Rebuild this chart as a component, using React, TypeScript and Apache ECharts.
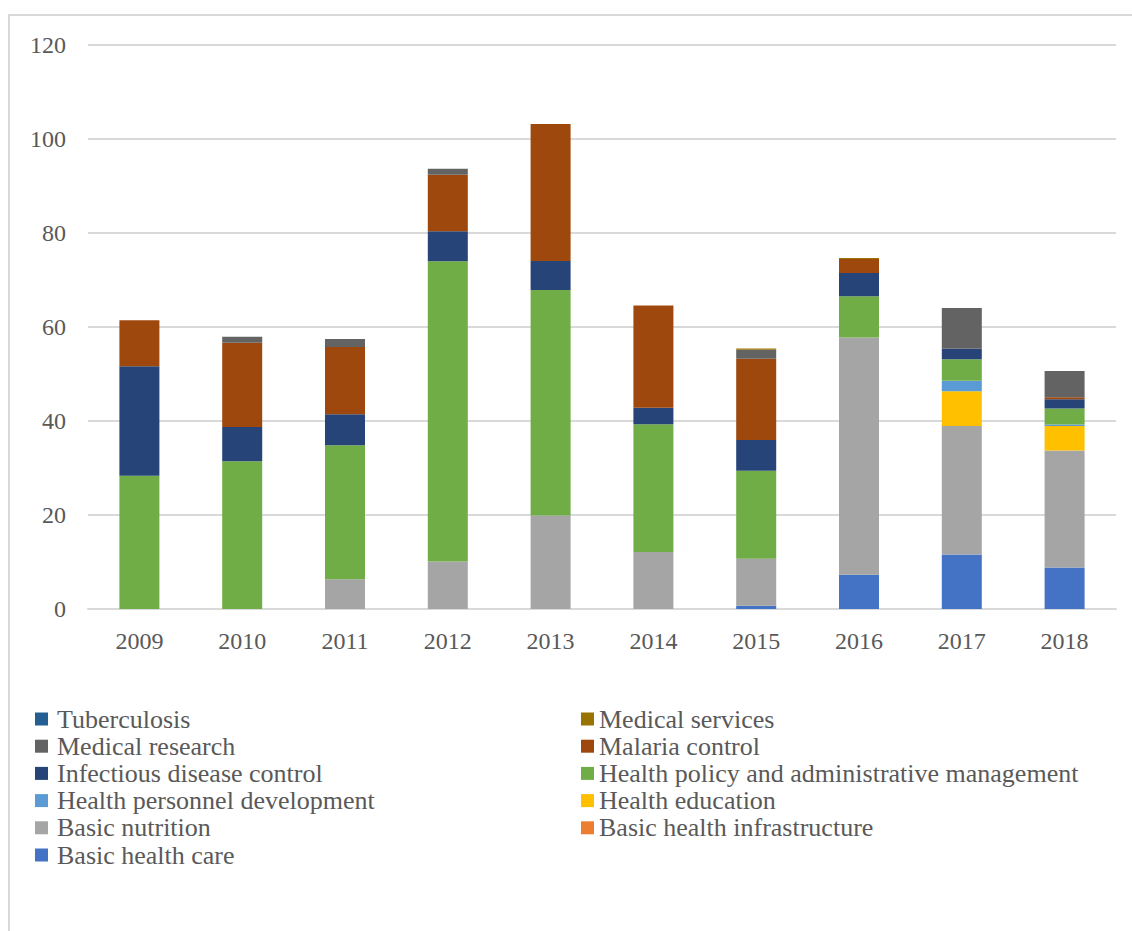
import React, { useEffect, useRef } from "react";
import * as echarts from "echarts";

const years = ["2009", "2010", "2011", "2012", "2013", "2014", "2015", "2016", "2017", "2018"];

const basicHealthCare = [0, 0, 0, 0, 0, 0, 0.7, 7.3, 11.6, 8.8];
const basicHealthInfrastructure = [0, 0, 0, 0, 0, 0, 0, 0, 0, 0];
const basicNutrition = [0, 0, 6.3, 10.1, 19.9, 12.1, 10.0, 50.4, 27.3, 24.9];
const healthEducation = [0, 0, 0, 0, 0, 0, 0, 0, 7.4, 5.2];
const healthPersonnel = [0, 0, 0, 0, 0, 0, 0, 0, 2.2, 0.3];
const healthPolicy = [28.3, 31.4, 28.5, 63.8, 47.9, 27.2, 18.7, 8.8, 4.6, 3.4];
const infectiousDisease = [23.3, 7.3, 6.6, 6.4, 6.2, 3.5, 6.5, 4.9, 2.2, 2.0];
const malariaControl = [9.8, 17.9, 14.3, 12.0, 29.1, 21.7, 17.3, 3.0, 0, 0.4];
const medicalResearch = [0, 1.3, 1.7, 1.3, 0, 0, 1.9, 0, 8.7, 5.6];
const medicalServices = [0, 0, 0, 0, 0, 0, 0.3, 0.2, 0, 0];
const tuberculosis = [0, 0, 0, 0, 0, 0, 0, 0, 0, 0];

const yTicks = [0, 20, 40, 60, 80, 100, 120];

const seriesDefs = [
  { name: "Basic health care", data: basicHealthCare, color: "#4472C4" },
  { name: "Basic health infrastructure", data: basicHealthInfrastructure, color: "#ED7D31" },
  { name: "Basic nutrition", data: basicNutrition, color: "#A5A5A5" },
  { name: "Health education", data: healthEducation, color: "#FFC000" },
  { name: "Health personnel development", data: healthPersonnel, color: "#5B9BD5" },
  { name: "Health policy and administrative management", data: healthPolicy, color: "#70AD47" },
  { name: "Infectious disease control", data: infectiousDisease, color: "#264478" },
  { name: "Malaria control", data: malariaControl, color: "#9E480E" },
  { name: "Medical research", data: medicalResearch, color: "#636363" },
  { name: "Medical services", data: medicalServices, color: "#997300" },
  { name: "Tuberculosis", data: tuberculosis, color: "#255E91" },
];

const legendCol1 = [
  "Tuberculosis",
  "Medical research",
  "Infectious disease control",
  "Health personnel development",
  "Basic nutrition",
  "Basic health care",
];
const legendCol2 = [
  "Medical services",
  "Malaria control",
  "Health policy and administrative management",
  "Health education",
  "Basic health infrastructure",
];

const FONT = "Liberation Serif";
const TEXT = "#595959";

export default function App() {
  const ref = useRef<HTMLDivElement>(null);
  useEffect(() => {
    if (!ref.current) return;
    const chart = echarts.init(ref.current, undefined, { renderer: "svg" });
    const legendCommon = {
      orient: "vertical" as const,
      top: 701,
      itemWidth: 13,
      itemHeight: 13,
      itemGap: 1.2,
      icon: "rect",
      selectedMode: false,
    };
    const textStyle = {
      fontFamily: FONT,
      fontSize: 26,
      color: TEXT,
      lineHeight: 26,
    };
    chart.setOption({
      animation: false,
      backgroundColor: "#ffffff",
      grid: { left: 88, right: 16, top: 44.5, bottom: 322, containLabel: false },
      graphic: [
        {
          type: "rect",
          shape: { x: 9, y: 15, width: 1300, height: 1100 },
          style: { fill: "none", stroke: "#d9d9d9", lineWidth: 2 },
          silent: true,
        },
      ],
      legend: [
        {
          ...legendCommon,
          left: 30,
          data: legendCol1,
          textStyle: { ...textStyle, padding: [0, 0, 0, 4] },
        },
        {
          ...legendCommon,
          left: 576,
          data: legendCol2,
          textStyle: { ...textStyle, padding: [0, 0, 0, 0] },
        },
      ],
      xAxis: {
        type: "category",
        data: years,
        axisLine: { show: true, lineStyle: { color: "#d9d9d9", width: 2 } },
        axisTick: { show: false },
        axisLabel: { fontFamily: FONT, fontSize: 24, color: TEXT, margin: 20 },
      },
      yAxis: {
        type: "value",
        min: yTicks[0],
        max: yTicks[yTicks.length - 1],
        interval: 20,
        axisLine: { show: false },
        axisTick: { show: false },
        splitLine: { lineStyle: { color: "#d9d9d9", width: 2 } },
        axisLabel: { fontFamily: FONT, fontSize: 24, color: TEXT, margin: 22 },
      },
      series: seriesDefs.map((s) => ({
        name: s.name,
        type: "bar",
        stack: "total",
        data: s.data,
        barWidth: 40,
        itemStyle: { color: s.color },
      })),
    });
    return () => chart.dispose();
  }, []);
  return (
    <div
      ref={ref}
      style={{ position: "absolute", left: 0, top: 0, width: 1132, height: 931 }}
    />
  );
}
